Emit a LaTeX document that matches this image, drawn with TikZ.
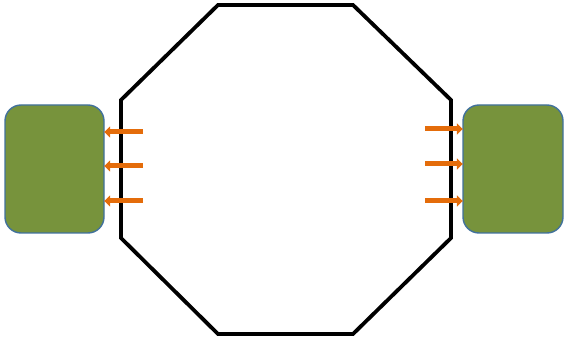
\documentclass[tikz,border=0pt]{standalone}
\usetikzlibrary{arrows.meta}
\definecolor{boxgreen}{HTML}{77933C}
\definecolor{boxedge}{HTML}{41719C}
\definecolor{arroworange}{HTML}{E46C0A}
\begin{document}
\begin{tikzpicture}[x=1pt,y=-1pt,
  gbox/.style={draw=boxedge,fill=boxgreen,line width=1.4pt,rounded corners=16pt},
  oarrow/.style={draw=arroworange,line width=5pt,-{Triangle[length=6pt,width=11pt]}}]
\useasboundingbox (0,0) rectangle (565,339);
\draw[line width=3.8pt,line join=miter] (218,5) -- (353,5) -- (451,100) -- (451,238) -- (353,334) -- (218,334) -- (121,238) -- (121,100) -- cycle;
\path[gbox] (5,105) rectangle (104,233);
\path[gbox] (463,105) rectangle (563,233);
\node[inner sep=0pt,minimum width=99pt,minimum height=128pt] (L) at (54.5,169) {};
\node[inner sep=0pt,minimum width=100pt,minimum height=128pt] (R) at (513,169) {};
\coordinate (l1) at (143,132);
\coordinate (l2) at (143,166);
\coordinate (l3) at (143,201);
\coordinate (r1) at (425,129);
\coordinate (r2) at (425,164);
\coordinate (r3) at (425,201);
\draw[oarrow] (l1) -- (l1 -| L.east);
\draw[oarrow] (l2) -- (l2 -| L.east);
\draw[oarrow] (l3) -- (l3 -| L.east);
\draw[oarrow] (r1) -- (r1 -| R.west);
\draw[oarrow] (r2) -- (r2 -| R.west);
\draw[oarrow] (r3) -- (r3 -| R.west);
\end{tikzpicture}
\end{document}
